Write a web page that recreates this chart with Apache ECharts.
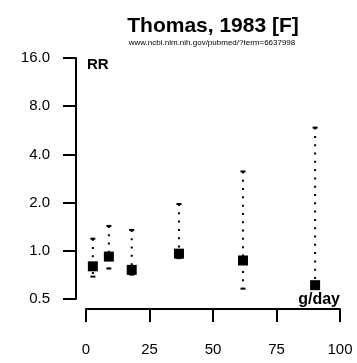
<!DOCTYPE html>
<html>
<head>
<meta charset="utf-8">
<script src="https://cdn.jsdelivr.net/npm/echarts@6/dist/echarts.min.js"></script>
<style>
html,body{margin:0;padding:0;background:#fff;}
#chart{width:357px;height:363px;}
</style>
</head>
<body>
<div id="chart"></div>
<script>
// Data
const doses = [2.7, 9, 18, 36.6, 61.8, 90.2];
const rr = [0.80, 0.92, 0.76, 0.96, 0.87, 0.61];
const lower = [0.69, 0.775, 0.71, 0.90, 0.58, 0.47];
const upper = [1.19, 1.43, 1.35, 1.96, 3.13, 5.88];
const xTicks = [0, 25, 50, 75, 100];
const yTicks = [0.5, 1, 2, 4, 8, 16];
const titleText = 'Thomas, 1983 [F]';
const subText = 'www.ncbi.nlm.nih.gov/pubmed/?term=6637998';

const FONT = '"Liberation Sans", Arial, Helvetica, sans-serif';
const chart = echarts.init(document.getElementById('chart'), null, {renderer: 'canvas'});

const pts = doses.map((d, i) => [d, rr[i]]);
const ci = doses.map((d, i) => [d, lower[i], upper[i]]);

chart.setOption({
  animation: false,
  backgroundColor: '#fff',
  grid: {left: 86, right: 17, top: 58, bottom: 64, containLabel: false},
  xAxis: {
    type: 'value', min: xTicks[0], max: xTicks[xTicks.length - 1], interval: 25,
    offset: 10,
    axisLine: {show: true, onZero: false, lineStyle: {color: '#000', width: 2}},
    axisTick: {show: true, length: 13, lineStyle: {color: '#000', width: 2}},
    axisLabel: {color: '#000', fontSize: 15, fontFamily: FONT, margin: 33},
    splitLine: {show: false}
  },
  yAxis: {
    type: 'log', logBase: 2, min: yTicks[0], max: yTicks[yTicks.length - 1],
    offset: 10,
    axisLine: {show: true, onZero: false, lineStyle: {color: '#000', width: 2}},
    axisTick: {show: true, length: 13, lineStyle: {color: '#000', width: 2}},
    axisLabel: {color: '#000', fontSize: 15, fontFamily: FONT, margin: 26,
      formatter: v => Number(v).toFixed(1)},
    splitLine: {show: false}
  },
  series: [
    {
      type: 'custom',
      data: ci,
      encode: {x: 0, y: [1, 2]},
      clip: false,
      z: 2,
      renderItem: function (params, api) {
        const x = api.value(0), lo = api.value(1), hi = api.value(2);
        const p1 = api.coord([x, hi]);
        const p2 = api.coord([x, lo]);
        const cw = 2.5;
        return {
          type: 'group',
          children: [
            {type: 'line', shape: {x1: p1[0], y1: p1[1], x2: p2[0], y2: p2[1]},
              style: {stroke: '#000', lineWidth: 2, lineDash: [2, 6.3]}},
            {type: 'line', shape: {x1: p1[0] - cw, y1: p1[1], x2: p1[0] + cw, y2: p1[1]},
              style: {stroke: '#000', lineWidth: 2}},
            {type: 'line', shape: {x1: p2[0] - cw, y1: p2[1], x2: p2[0] + cw, y2: p2[1]},
              style: {stroke: '#000', lineWidth: 2}}
          ]
        };
      }
    },
    {
      type: 'scatter',
      data: pts,
      symbol: 'rect',
      symbolSize: 10,
      itemStyle: {color: '#000', opacity: 1},
      emphasis: {disabled: true},
      z: 5
    }
  ],
  graphic: [
    {type: 'text', x: 213, y: 26, z: 10,
      style: {text: titleText, font: 'bold 21px ' + FONT, fill: '#000', textAlign: 'center', textVerticalAlign: 'middle'}},
    {type: 'text', x: 212, y: 43, z: 10,
      style: {text: subText, font: '8px ' + FONT, fill: '#000', textAlign: 'center', textVerticalAlign: 'middle'}},
    {type: 'text', x: 87, y: 65, z: 10,
      style: {text: 'RR', font: 'bold 15px ' + FONT, fill: '#000', textAlign: 'left', textVerticalAlign: 'middle'}},
    {type: 'text', x: 340, y: 300, z: 10,
      style: {text: 'g/day', font: 'bold 16px ' + FONT, fill: '#000', textAlign: 'right', textVerticalAlign: 'middle',
        backgroundColor: '#fff', padding: [0, 0, 0, 0]}}
  ]
});
</script>
</body>
</html>
